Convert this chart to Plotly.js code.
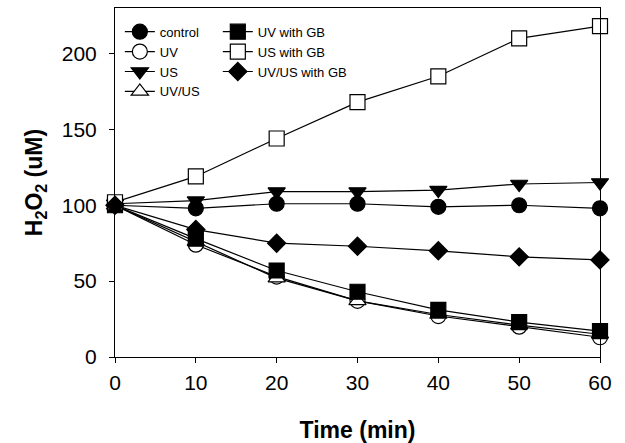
<!DOCTYPE html>
<html>
<head>
<meta charset="utf-8">
<script src="https://cdn.plot.ly/plotly-3.0.1.min.js"></script>
<style>html,body{margin:0;padding:0;background:#fff;}#chart{width:625px;height:443px;}</style>
</head>
<body>
<div id="chart"></div>
<script>
const time = [0, 10, 20, 30, 40, 50, 60];
const control = [100, 98, 101, 101, 99, 100, 98];
const uv = [100, 74, 53, 37, 27, 20, 13];
const us = [101, 103, 109, 109, 110, 114, 115];
const uvus = [100, 76, 52, 37, 28, 21, 15];
const uvGB = [100, 78, 57, 43, 31, 23, 17];
const usGB = [102, 119, 144, 168, 185, 210, 218];
const uvusGB = [100, 84, 75, 73, 70, 66, 64];

function tr(name, y, symbol, fill, legend, size) {
  return {
    x: time, y: y, name: name, type: 'scatter', mode: 'lines+markers',
    cliponaxis: false, legend: legend,
    line: {color: '#000', width: 1.2},
    marker: {symbol: symbol, size: size || 15, color: fill, line: {color: '#000', width: 1.2}}
  };
}

const data = [
  tr('control', control, 'circle', '#000', 'legend'),
  tr('UV', uv, 'circle', '#fff', 'legend'),
  tr('US', us, 'triangle-down', '#000', 'legend'),
  tr('UV/US', uvus, 'triangle-up', '#fff', 'legend'),
  tr('UV with GB', uvGB, 'square', '#000', 'legend2'),
  tr('US with GB', usGB, 'square', '#fff', 'legend2'),
  tr('UV/US with GB', uvusGB, 'diamond', '#000', 'legend2', 14)
];

const fontFam = 'Liberation Sans, Arial, sans-serif';
const layout = {
  width: 625, height: 443,
  margin: {l: 115, r: 25, t: 8, b: 86},
  paper_bgcolor: '#fff', plot_bgcolor: '#fff',
  font: {family: fontFam, color: '#000'},
  showlegend: true,
  legend: {x: 0.01, y: 0.975, xanchor: 'left', yanchor: 'top', bgcolor: 'rgba(0,0,0,0)',
           font: {size: 13, family: fontFam}, tracegroupgap: 0},
  legend2: {x: 0.212, y: 0.975, xanchor: 'left', yanchor: 'top', bgcolor: 'rgba(0,0,0,0)',
           font: {size: 13, family: fontFam}, tracegroupgap: 0},
  xaxis: {
    range: [0, 60], tickvals: time, ticks: 'outside', ticklen: 5, tickwidth: 1, tickcolor: '#000',
    ticklabelstandoff: 2,
    showline: true, linecolor: '#000', linewidth: 1, mirror: true,
    showgrid: false, zeroline: false,
    tickfont: {size: 21, family: fontFam, color: '#000'},
    title: {text: '<b>Time (min)</b>', font: {size: 23, family: fontFam}, standoff: 28}
  },
  yaxis: {
    range: [0, 230], tickvals: [0, 50, 100, 150, 200], ticks: 'outside', ticklen: 5, tickwidth: 1, tickcolor: '#000',
    ticklabelstandoff: 8,
    showline: true, linecolor: '#000', linewidth: 1, mirror: true,
    showgrid: false, zeroline: false,
    tickfont: {size: 21, family: fontFam, color: '#000'},
    title: {text: '<b>H<sub>2</sub>O<sub>2</sub> (uM)</b>', font: {size: 23, family: fontFam}, standoff: 12}
  }
};

Plotly.newPlot('chart', data, layout, {displayModeBar: false, staticPlot: true});
</script>
</body>
</html>
